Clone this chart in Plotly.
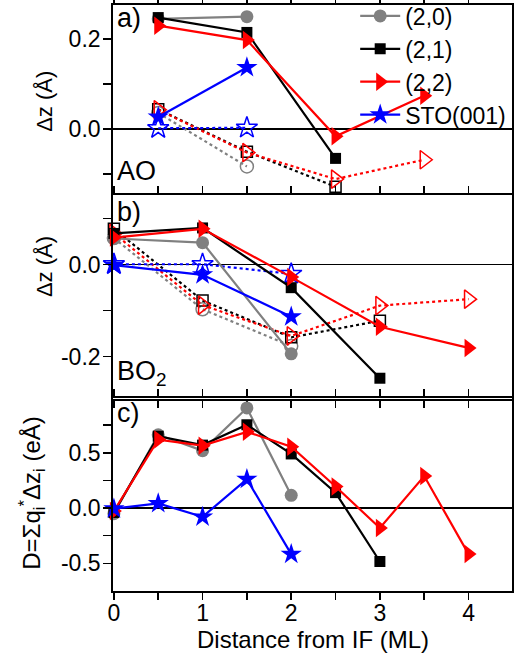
import plotly.graph_objects as go

# ---------------- data ----------------
# Panel a) AO layers
ao_x20 = [0.5, 1.5]
ao_20 = [0.245, 0.250]
ao_x21 = [0.5, 1.5, 2.5]
ao_21 = [0.248, 0.215, -0.065]
ao_x22 = [0.5, 1.5, 2.5, 3.5]
ao_22 = [0.230, 0.198, -0.016, 0.074]
ao_xsto = [0.5, 1.5]
ao_sto = [0.027, 0.137]
# open (dotted) series
ao_20o = [0.036, -0.083]
ao_21o = [0.044, -0.050, -0.128]
ao_22o = [0.043, -0.052, -0.111, -0.068]
ao_stoo = [0.002, 0.003]

# Panel b) BO2 layers
bo_x20 = [0, 1, 2]
bo_20 = [0.057, 0.048, -0.194]
bo_x21 = [0, 1, 2, 3]
bo_21 = [0.068, 0.080, -0.050, -0.247]
bo_x22 = [0, 1, 2, 3, 4]
bo_22 = [0.059, 0.078, -0.027, -0.135, -0.181]
bo_xsto = [0, 1, 2]
bo_sto = [-0.001, -0.022, -0.113]
# open (dotted) series
bo_20o = [0.058, -0.097, -0.177]
bo_21o = [0.078, -0.078, -0.158, -0.122]
bo_22o = [0.068, -0.088, -0.155, -0.089, -0.075]
bo_stoo = [0.001, 0.001, -0.020]

# Panel c) dipole D
d_x20 = [0, 0.5, 1, 1.5, 2]
d_20 = [-0.05, 0.663, 0.52, 0.906, 0.116]
d_x21 = [0, 0.5, 1, 1.5, 2, 2.5, 3]
d_21 = [-0.04, 0.65, 0.57, 0.754, 0.49, 0.14, -0.483]
d_x22 = [0, 0.5, 1, 1.5, 2, 2.5, 3, 3.5, 4]
d_22 = [-0.027, 0.62, 0.565, 0.69, 0.556, 0.195, -0.18, 0.29, -0.416]
d_xsto = [0, 0.5, 1, 1.5, 2]
d_sto = [-0.005, 0.043, -0.079, 0.262, -0.416]

names = ["(2,0)", "(2,1)", "(2,2)", "STO(001)"]
colors = ["#808080", "#000000", "#FF0000", "#0000FF"]
sym_solid = ["circle", "square", "triangle-right", "star"]
sym_open = ["circle-open", "square-open", "triangle-right-open", "star-open"]
msize = [13, 11, 16, 16]

x_ticks = [0, 1, 2, 3, 4]
x_minor = [0.5, 1.5, 2.5, 3.5]

ya_t = [0.0, 0.2]
ya_tt = ["0.0", "0.2"]
ya_m = [-0.1, 0.1]
yb_t = [-0.2, 0.0]
yb_tt = ["-0.2", "0.0"]
yb_m = [-0.1, 0.1]
yc_t = [-0.5, 0.0, 0.5]
yc_tt = ["-0.5", "0.0", "0.5"]
yc_m = [-0.25, 0.25, 0.75]

FONT = "Liberation Sans, Arial, sans-serif"

fig = go.Figure()


def add_series(xs, ys, i, xa, ya, dotted=False, legend=False):
    fig.add_trace(go.Scatter(
        x=xs, y=ys, xaxis=xa, yaxis=ya,
        mode="lines+markers",
        name=names[i],
        legendgroup=names[i],
        showlegend=legend,
        line=dict(color=colors[i], width=2.2, dash="dot" if dotted else "solid"),
        marker=dict(
            symbol=sym_open[i] if dotted else sym_solid[i],
            size=msize[i],
            color=colors[i],
            line=dict(color=colors[i], width=1.5 if dotted else 0),
        ),
        cliponaxis=False,
    ))


# Panel a (top)
add_series(ao_x20, ao_20o, 0, "x", "y", dotted=True)
add_series(ao_x21, ao_21o, 1, "x", "y", dotted=True)
add_series(ao_x22, ao_22o, 2, "x", "y", dotted=True)
add_series(ao_xsto, ao_stoo, 3, "x", "y", dotted=True)
add_series(ao_x20, ao_20, 0, "x", "y", legend=True)
add_series(ao_x21, ao_21, 1, "x", "y", legend=True)
add_series(ao_x22, ao_22, 2, "x", "y", legend=True)
add_series(ao_xsto, ao_sto, 3, "x", "y", legend=True)

# Panel b (middle)
add_series(bo_x20, bo_20o, 0, "x2", "y2", dotted=True)
add_series(bo_x21, bo_21o, 1, "x2", "y2", dotted=True)
add_series(bo_x22, bo_22o, 2, "x2", "y2", dotted=True)
add_series(bo_xsto, bo_stoo, 3, "x2", "y2", dotted=True)
add_series(bo_x20, bo_20, 0, "x2", "y2")
add_series(bo_x21, bo_21, 1, "x2", "y2")
add_series(bo_x22, bo_22, 2, "x2", "y2")
add_series(bo_xsto, bo_sto, 3, "x2", "y2")

# Panel c (bottom)
add_series(d_x20, d_20, 0, "x3", "y3")
add_series(d_x21, d_21, 1, "x3", "y3")
add_series(d_x22, d_22, 2, "x3", "y3")
add_series(d_xsto, d_sto, 3, "x3", "y3")

LW = 1.8
PLOT_H = 657 - 5 - 66
off = LW / PLOT_H

xr = [-0.01, 4.49]
xcommon = dict(range=xr, tickmode="array", tickvals=x_ticks, ticks="outside",
               ticklen=7, tickwidth=1.5, tickcolor="black", showline=True,
               linewidth=LW, linecolor="black", mirror="ticks", showgrid=False,
               zeroline=False, automargin=False, ticklabelstandoff=-6,
               minor=dict(tickmode="array", tickvals=x_minor, ticks="outside",
                          ticklen=7, tickwidth=1.5, tickcolor="black", showgrid=False),
               tickfont=dict(size=23, color="black", family=FONT))
ycommon = dict(ticks="outside", ticklen=8, tickwidth=1.5, tickcolor="black",
               showline=True, linewidth=LW, linecolor="black", mirror=True,
               showgrid=False, zeroline=True, zerolinecolor="black",
               zerolinewidth=1.4, automargin=False, ticklabelstandoff=-2,
               tickfont=dict(size=23, color="black", family=FONT))
yright = dict(side="right", ticks="inside", ticklen=8, tickwidth=1.5,
              tickcolor="black", showticklabels=False, showline=False,
              showgrid=False, zeroline=False, automargin=False)

da = [0.673, 1.0]
db = [0.327, 0.673 + off]
dc = [0.0, 0.327 + off]
ya_r = [-0.15, 0.276]
yb_r = [-0.293, 0.152]
yc_r = [-0.75, 1.0]


def minor(vals, inside=False):
    return dict(tickmode="array", tickvals=vals, ticks="inside" if inside else "outside",
                ticklen=8, tickwidth=1.5, tickcolor="black", showgrid=False)


fig.update_layout(
    template="none",
    width=527, height=657,
    margin=dict(l=113, r=15, t=5, b=66, autoexpand=False),
    paper_bgcolor="white", plot_bgcolor="white",
    font=dict(family=FONT, color="black"),
    xaxis=dict(xcommon, anchor="y", showticklabels=False),
    xaxis2=dict(xcommon, anchor="y2", showticklabels=False),
    xaxis3=dict(xcommon, anchor="y3", showticklabels=True),
    yaxis=dict(ycommon, domain=da, range=ya_r, tickmode="array", tickvals=ya_t, ticktext=ya_tt, minor=minor(ya_m), anchor="x"),
    yaxis2=dict(ycommon, domain=db, range=yb_r, tickmode="array", tickvals=yb_t, ticktext=yb_tt, minor=minor(yb_m), anchor="x2"),
    yaxis3=dict(ycommon, domain=dc, range=yc_r, tickmode="array", tickvals=yc_t, ticktext=yc_tt, minor=minor(yc_m), anchor="x3"),
    yaxis4=dict(yright, overlaying="y", anchor="x", range=ya_r, tickmode="array", tickvals=ya_t, minor=minor(ya_m, True)),
    yaxis5=dict(yright, overlaying="y2", anchor="x2", range=yb_r, tickmode="array", tickvals=yb_t, minor=minor(yb_m, True)),
    yaxis6=dict(yright, overlaying="y3", anchor="x3", range=yc_r, tickmode="array", tickvals=yc_t, minor=minor(yc_m, True)),
    legend=dict(x=0.607, y=1.018, xanchor="left", yanchor="top",
                bgcolor="rgba(0,0,0,0)", borderwidth=0,
                font=dict(size=23, color="black", family=FONT),
                traceorder="grouped", tracegroupgap=0, itemwidth=40),
    showlegend=True,
)

ann_font = dict(size=27, color="black", family=FONT)
ytitle_font = dict(size=22, color="black", family=FONT)
annotations = [
    dict(text="a)", x=0.005, y=0.978, xref="paper", yref="paper", xanchor="left", yanchor="middle", showarrow=False, font=ann_font),
    dict(text="AO", x=0.005, y=0.717, xref="paper", yref="paper", xanchor="left", yanchor="middle", showarrow=False, font=ann_font),
    dict(text="b)", x=0.005, y=0.647, xref="paper", yref="paper", xanchor="left", yanchor="middle", showarrow=False, font=ann_font),
    dict(text="BO<sub>2</sub>", x=0.005, y=0.34, xref="paper", yref="paper", xanchor="left", yanchor="bottom", showarrow=False, font=ann_font),
    dict(text="c)", x=0.005, y=0.304, xref="paper", yref="paper", xanchor="left", yanchor="middle", showarrow=False, font=ann_font),
    dict(text="Δz (Å)", x=-0.17, y=0.835, xref="paper", yref="paper", xanchor="center", yanchor="middle", textangle=-90, showarrow=False, font=ytitle_font),
    dict(text="Δz (Å)", x=-0.17, y=0.553, xref="paper", yref="paper", xanchor="center", yanchor="middle", textangle=-90, showarrow=False, font=ytitle_font),
    dict(text="D=Σq<sub>i</sub><sup>*</sup>Δz<sub>i</sub> (eÅ)", x=-0.205, y=0.168, xref="paper", yref="paper", xanchor="center", yanchor="middle", textangle=-90, showarrow=False, font=dict(size=24, color="black", family=FONT)),
    dict(text="Distance from IF (ML)", x=0.5, y=-0.0836, xref="paper", yref="paper", xanchor="center", yanchor="middle", showarrow=False, font=dict(size=24, color="black", family=FONT)),
]
fig.update_layout(annotations=annotations)

fig.write_html("out.html", config={"displayModeBar": False, "staticPlot": True},
               post_script="document.body.style.margin='0';document.body.style.padding='0';document.body.style.overflow='hidden';")
